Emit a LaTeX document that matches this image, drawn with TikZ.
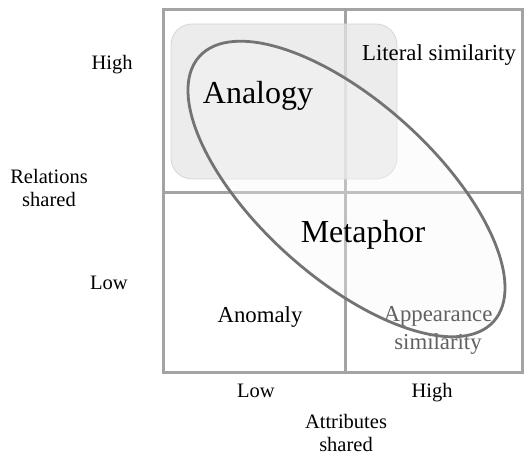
\documentclass[tikz,border=0pt]{standalone}
\usepackage{fontspec}
\setmainfont{Liberation Serif}
\begin{document}
\begin{tikzpicture}[x=1pt,y=1pt,
  gridline/.style={draw=black!36,line width=3pt},
  axislabel/.style={font=\fontsize{20.5}{23}\selectfont,anchor=base,align=center,inner sep=0pt},
  celllabel/.style={font=\fontsize{22.8}{28}\selectfont,anchor=base,align=center,inner sep=0pt},
  biglabel/.style={font=\fontsize{32}{36}\selectfont,anchor=base,inner sep=0pt},
  ellipseline/.style={draw=black!55,line width=2.8pt}]
\useasboundingbox (0,0) rectangle (525,457);

% the 2x2 grid
\coordinate (tl) at (163,447);
\coordinate (br) at (522,84);
\coordinate (mt) at (345,447);
\coordinate (mb) at (345,84);
\coordinate (ml) at (163,264);
\coordinate (mr) at (522,264);
\draw[gridline] (tl) rectangle (br);
\draw[gridline] (mt) -- (mb);
\draw[gridline] (ml) -- (mr);

% shaded zone behind the analogy cell
\coordinate (rl) at (171,278);
\coordinate (rh) at (397,433);
\draw[draw=black!16,line width=0.8pt,fill=black!10,fill opacity=0.75,rounded corners=21pt] (rl) rectangle (rh);

% faint fill of the metaphor ellipse
\coordinate (ec) at (346.5,268);
\fill[black!3,fill opacity=0.35,rotate around={-42:(ec)}]
  (ec) ellipse [x radius=198, y radius=88];

% cell texts
\node[celllabel] (lit) at (439,396) {Literal similarity};
\node[biglabel] (ana) at (258,353) {Analogy};
\node[biglabel] (met) at (363,214) {Metaphor};
\node[celllabel] (ano) at (260,134) {Anomaly};
\node[celllabel,text=black!62] (app) at (438,107) {Appearance\\similarity};

% outline of the metaphor ellipse
\draw[ellipseline,rotate around={-42:(ec)}]
  (ec) ellipse [x radius=198, y radius=88];

% axis labels
\node[axislabel] (rhigh) at (112,387) {High};
\node[axislabel] (rname) at (49,250) {Relations\\shared};
\node[axislabel] (rlow) at (109,167) {Low};
\node[axislabel] (alow) at (256,59) {Low};
\node[axislabel] (ahigh) at (432,59) {High};
\node[axislabel] (aname) at (346,5.3) {Attributes\\shared};
\end{tikzpicture}
\end{document}
